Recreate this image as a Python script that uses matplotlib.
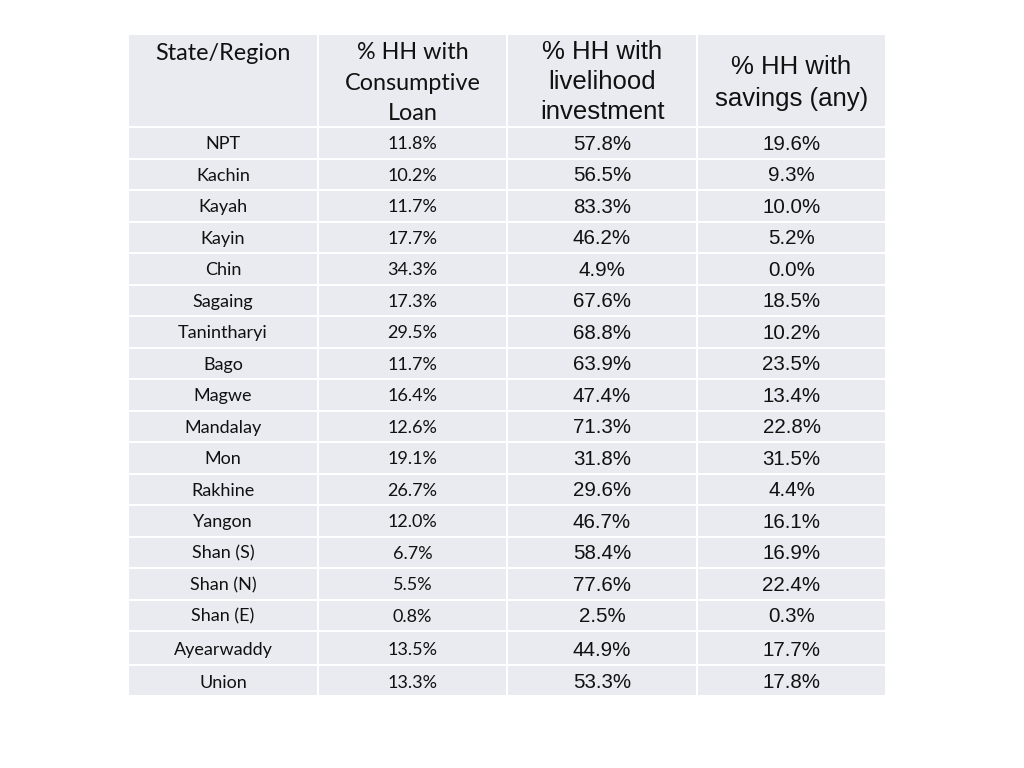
import matplotlib
matplotlib.use("Agg")
import matplotlib.pyplot as plt
from matplotlib.patches import Rectangle

regions = ["NPT", "Kachin", "Kayah", "Kayin", "Chin", "Sagaing", "Tanintharyi", "Bago",
           "Magwe", "Mandalay", "Mon", "Rakhine", "Yangon", "Shan (S)", "Shan (N)",
           "Shan (E)", "Ayearwaddy", "Union"]
consumptive_loan = ["11.8%", "10.2%", "11.7%", "17.7%", "34.3%", "17.3%", "29.5%", "11.7%",
                    "16.4%", "12.6%", "19.1%", "26.7%", "12.0%", "6.7%", "5.5%", "0.8%",
                    "13.5%", "13.3%"]
livelihood_inv = ["57.8%", "56.5%", "83.3%", "46.2%", "4.9%", "67.6%", "68.8%", "63.9%",
                  "47.4%", "71.3%", "31.8%", "29.6%", "46.7%", "58.4%", "77.6%", "2.5%",
                  "44.9%", "53.3%"]
savings_any = ["19.6%", "9.3%", "10.0%", "5.2%", "0.0%", "18.5%", "10.2%", "23.5%",
               "13.4%", "22.8%", "31.5%", "4.4%", "16.1%", "16.9%", "22.4%", "0.3%",
               "17.7%", "17.8%"]
headers = ["State/Region", "% HH with\nConsumptive\nLoan", "% HH with\nlivelihood\ninvestment",
           "% HH with\nsavings (any)"]

W, H = 1024, 768
fig = plt.figure(figsize=(10.24, 7.68), dpi=100)
ax = fig.add_axes([0, 0, 1, 1])
ax.set_xlim(0, W)
ax.set_ylim(H, 0)
ax.axis("off")

col_edges = [128, 318, 507, 697, 886]
row_edges = [34, 127] + [127 + 31.5 * (i + 1) for i in range(16)]
row_edges += [row_edges[-1] + 33.5, 696]

cell_color = "#E9EBF1"
for r in range(len(row_edges) - 1):
    for c in range(4):
        ax.add_patch(Rectangle((col_edges[c], row_edges[r]), col_edges[c + 1] - col_edges[c],
                               row_edges[r + 1] - row_edges[r], facecolor=cell_color,
                               edgecolor="white", linewidth=1.5))

calibri_like = ["Lato", "DejaVu Sans"]
arial_like = ["Liberation Sans", "DejaVu Sans"]
fonts = [calibri_like, calibri_like, arial_like, arial_like]
cols = [regions, consumptive_loan, livelihood_inv, savings_any]
data_sizes = [13, 13, 14.8, 14.8]
text_color = "#111111"

# headers
header_center_y = [53, 83, 82, 83]
header_sizes = [16.8, 16.8, 18.5, 18.5]
header_ls = [1.53, 1.53, 1.33, 1.38]
for c in range(4):
    xc = (col_edges[c] + col_edges[c + 1]) / 2
    ax.text(xc, header_center_y[c], headers[c], ha="center", va="center",
            fontsize=header_sizes[c], family=fonts[c], color=text_color,
            linespacing=header_ls[c])

for r in range(len(regions)):
    extra = 1.5 if r < 16 else 2.5
    yc = (row_edges[r + 1] + row_edges[r + 2]) / 2 + extra
    for c in range(4):
        xc = (col_edges[c] + col_edges[c + 1]) / 2
        ax.text(xc, yc, cols[c][r], ha="center", va="center", fontsize=data_sizes[c],
                family=fonts[c], color=text_color)

fig.savefig("out.png", dpi=100, facecolor="white")
